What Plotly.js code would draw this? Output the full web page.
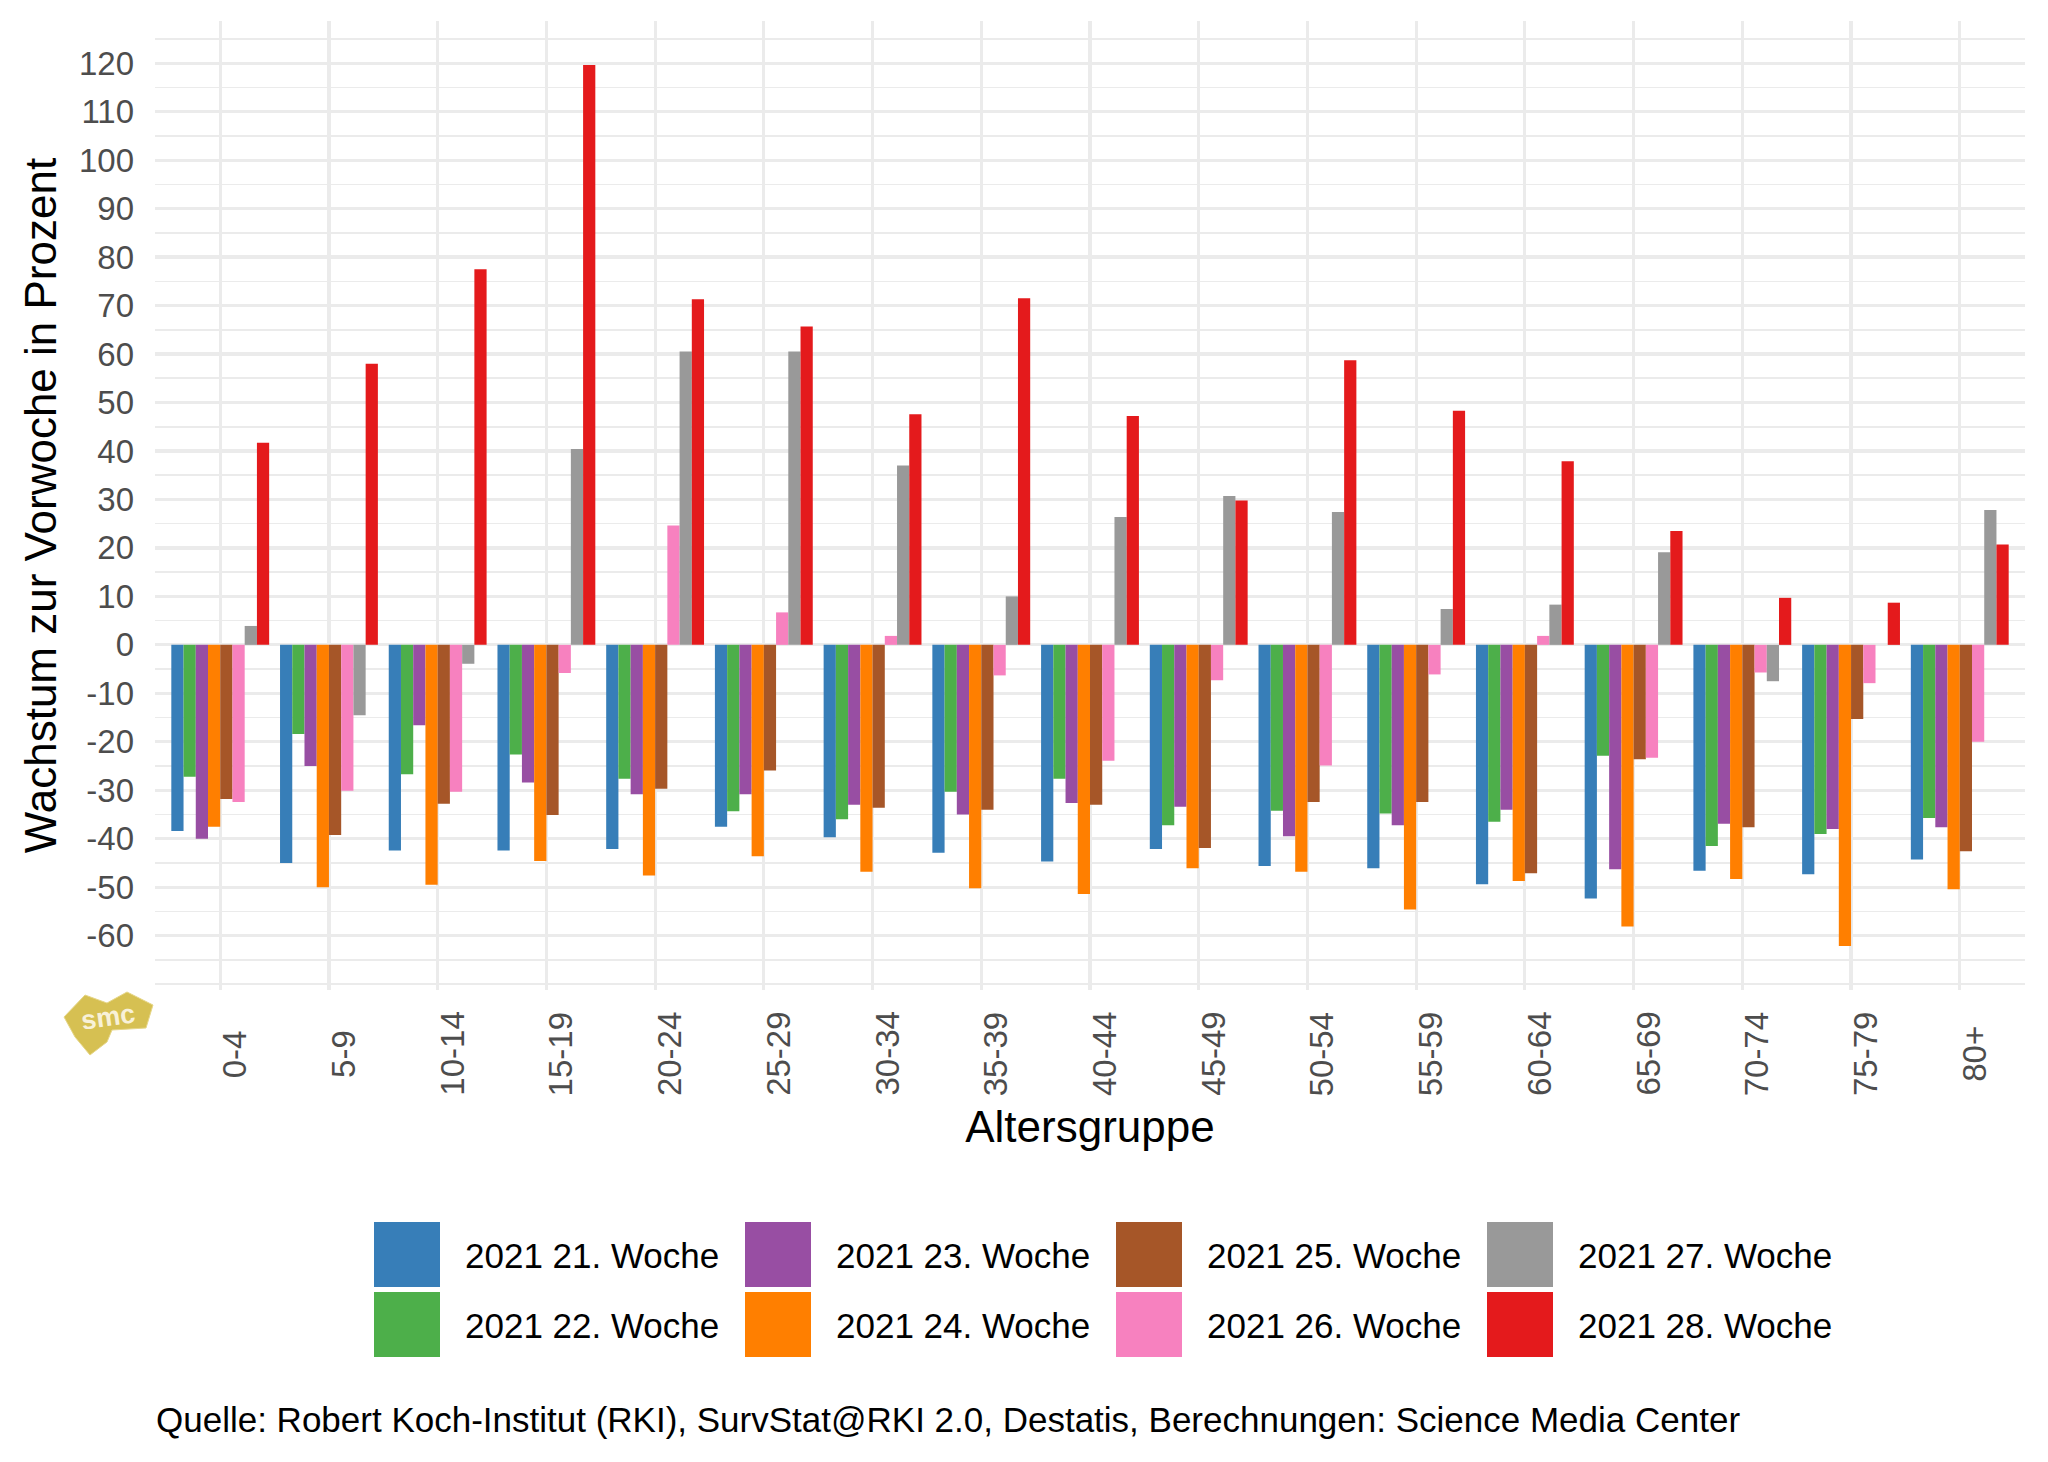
<!DOCTYPE html>
<html>
<head>
<meta charset="utf-8">
<script src="https://cdn.plot.ly/plotly-3.0.1.min.js"></script>
<style>html,body{margin:0;padding:0;background:#fff;}</style>
</head>
<body>
<div id="chart" style="width:2048px;height:1462px;"></div>
<script>
// ---- data ----
const ageGroups = ["0-4","5-9","10-14","15-19","20-24","25-29","30-34","35-39","40-44","45-49","50-54","55-59","60-64","65-69","70-74","75-79","80+"];
const weekLabels = ["2021 21. Woche","2021 22. Woche","2021 23. Woche","2021 24. Woche","2021 25. Woche","2021 26. Woche","2021 27. Woche","2021 28. Woche"];
const weekColors = ["#377EB8","#4DAF4A","#984EA3","#FF7F00","#A65628","#F781BF","#999999","#E41A1C"];
const week21 = [-38.4,-45.0,-42.4,-42.4,-42.1,-37.5,-39.7,-42.9,-44.7,-42.1,-45.6,-46.1,-49.4,-52.3,-46.6,-47.3,-44.3];
const week22 = [-27.2,-18.4,-26.7,-22.6,-27.6,-34.3,-36.0,-30.3,-27.6,-37.2,-34.2,-34.8,-36.5,-22.9,-41.5,-39.0,-35.7];
const week23 = [-40.0,-25.0,-16.6,-28.4,-30.8,-30.8,-33.0,-35.0,-32.6,-33.4,-39.5,-37.2,-34.0,-46.3,-36.9,-38.0,-37.6];
const week24 = [-37.5,-50.0,-49.5,-44.6,-47.6,-43.6,-46.8,-50.2,-51.4,-46.1,-46.8,-54.6,-48.7,-58.1,-48.3,-62.1,-50.4];
const week25 = [-31.8,-39.2,-32.8,-35.1,-29.7,-25.9,-33.6,-34.0,-33.0,-41.9,-32.4,-32.4,-47.1,-23.6,-37.6,-15.3,-42.6];
const week26 = [-32.4,-30.1,-30.3,-5.8,24.6,6.7,1.85,-6.3,-23.9,-7.3,-24.9,-6.1,1.85,-23.3,-5.7,-7.9,-20.0];
const week27 = [3.9,-14.5,-3.9,40.4,60.5,60.5,37.0,10.0,26.4,30.7,27.4,7.4,8.3,19.1,-7.5,0,27.8];
const week28 = [41.7,58.0,77.5,119.6,71.3,65.7,47.6,71.5,47.2,29.8,58.7,48.3,37.9,23.5,9.7,8.7,20.7];
const yTicks = [-60,-50,-40,-30,-20,-10,0,10,20,30,40,50,60,70,80,90,100,110,120];
const yMinorTicks = [-70,-65,-55,-45,-35,-25,-15,-5,5,15,25,35,45,55,65,75,85,95,105,115,125];
const yTitle = "Wachstum zur Vorwoche in Prozent";
const xTitle = "Altersgruppe";
const caption = "Quelle: Robert Koch-Institut (RKI), SurvStat@RKI 2.0, Destatis, Berechnungen: Science Media Center";

const series = [week21, week22, week23, week24, week25, week26, week27, week28];

// ---- layout constants (pixels) ----
const W = 2048, H = 1462;
const mL = 155, mR = 23, mT = 21, mB = 472;
const plotW = W - mL - mR, plotH = H - mT - mB;
const px2x = px => (px - mL) / plotW;
const px2y = py => (H - mB - py) / plotH;
const FONT = "Liberation Sans, Arial, Helvetica, sans-serif";

const traces = series.map((vals, i) => ({
  type: "bar",
  x: ageGroups,
  y: vals,
  name: weekLabels[i],
  marker: {color: weekColors[i], line: {width: 0}},
  showlegend: false
}));

const annotations = [];
const shapes = [];

// x tick labels (rotated, centred like the original)
ageGroups.forEach(a => {
  annotations.push({
    x: a, xref: "x", y: px2y(1054), yref: "paper",
    text: a, textangle: -90, showarrow: false,
    xanchor: "center", yanchor: "middle", xshift: 14,
    font: {family: FONT, size: 33, color: "#4D4D4D"}
  });
});

// legend: 4 columns x 2 rows, filled column-wise
const colLeft = [374, 745, 1116, 1487];
const rowTop = [1222, 1292];
const sw = 66, sh = 65;
weekLabels.forEach((lab, i) => {
  const c = Math.floor(i / 2), r = i % 2;
  const x0 = colLeft[c], y0 = rowTop[r];
  shapes.push({
    type: "rect", xref: "paper", yref: "paper",
    x0: px2x(x0), x1: px2x(x0 + sw), y0: px2y(y0), y1: px2y(y0 + sh),
    fillcolor: weekColors[i], line: {width: 0}, layer: "above"
  });
  annotations.push({
    x: px2x(x0 + 89), xref: "paper", y: px2y(y0 + sh / 2 + 1), yref: "paper",
    text: lab, showarrow: false, xanchor: "left", yanchor: "middle",
    font: {family: FONT, size: 35, color: "#000000"}
  });
});

// caption
annotations.push({
  x: px2x(154), xref: "paper", y: px2y(1419), yref: "paper",
  text: caption, showarrow: false, xanchor: "left", yanchor: "middle",
  font: {family: FONT, size: 35, color: "#000000"}
});

// smc logo (approximate)
const logoPts = [[64,1017],[85,995],[107,1003],[127,992],[153,1005],[146,1028],[112,1030],[107,1042],[90,1055],[75,1037]];
shapes.push({
  type: "path", xref: "paper", yref: "paper",
  path: "M" + logoPts.map(p => px2x(p[0]).toFixed(5) + "," + px2y(p[1]).toFixed(5)).join(" L") + " Z",
  fillcolor: "#D6C052", line: {color: "#E6D688", width: 1}
});
annotations.push({
  x: px2x(108), xref: "paper", y: px2y(1017), yref: "paper",
  text: "<b>smc</b>", showarrow: false, xanchor: "center", yanchor: "middle",
  textangle: -8,
  font: {family: FONT, size: 27, color: "#F8F1D8"}
});

const layout = {
  width: W, height: H, autosize: false,
  margin: {l: mL, r: mR, t: mT, b: mB, pad: 0},
  paper_bgcolor: "#FFFFFF", plot_bgcolor: "#FFFFFF",
  font: {family: FONT},
  barmode: "group", bargap: 0.1, bargroupgap: 0,
  showlegend: false,
  xaxis: {
    type: "category", categoryorder: "array", categoryarray: ageGroups,
    range: [-0.6, ageGroups.length - 0.4],
    showgrid: true, gridcolor: "#EBEBEB", gridwidth: 3.2,
    showticklabels: false, ticks: "", showline: false, zeroline: false,
    title: {text: xTitle, font: {family: FONT, size: 44, color: "#000000"}, standoff: 121}
  },
  yaxis: {
    range: [-71.2, 128.7],
    tickmode: "array", tickvals: yTicks, ticktext: yTicks.map(v => String(v)),
    tickfont: {family: FONT, size: 33, color: "#4D4D4D"},
    ticks: "", ticklabelstandoff: 20,
    showgrid: true, gridcolor: "#EBEBEB", gridwidth: 3.2,
    minor: {tickmode: "array", tickvals: yMinorTicks, showgrid: true, gridcolor: "#EBEBEB", gridwidth: 1.6, ticks: ""},
    zeroline: false, showline: false,
    title: {text: yTitle, font: {family: FONT, size: 44, color: "#000000"}, standoff: 8}
  },
  shapes: shapes,
  annotations: annotations
};

Plotly.newPlot("chart", traces, layout, {displayModeBar: false, staticPlot: true});
</script>
</body>
</html>
